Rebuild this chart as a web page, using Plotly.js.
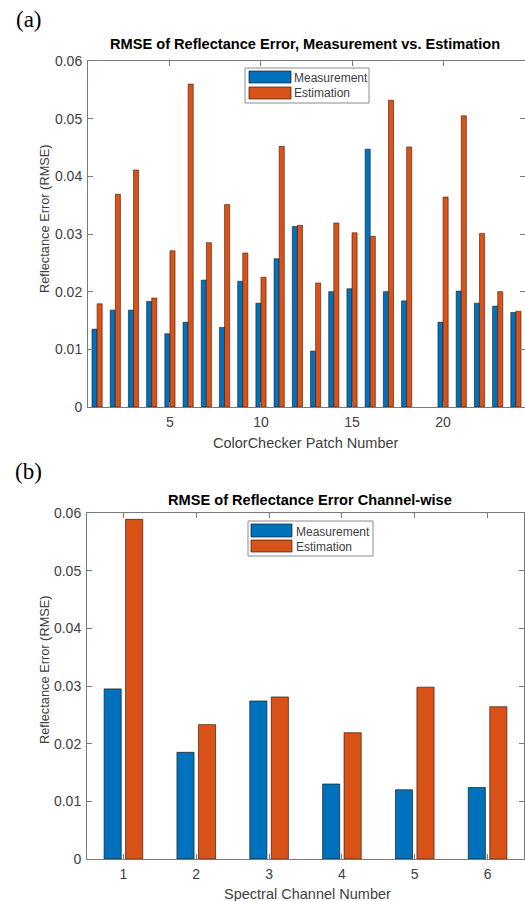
<!DOCTYPE html>
<html>
<head>
<meta charset="utf-8">
<script src="https://cdn.plot.ly/plotly-3.0.1.min.js"></script>
<style>html,body{margin:0;padding:0;background:#fff;}#chart{width:525px;height:901px;}</style>
</head>
<body>
<div id="chart"></div>
<script>
// ---- Data ----
const patches = [1,2,3,4,5,6,7,8,9,10,11,12,13,14,15,16,17,18,19,20,21,22,23,24];
const patchMeasurement = [0.0135,0.0168,0.0168,0.0183,0.0127,0.0147,0.0220,0.0138,0.0218,0.0180,0.0257,0.0313,0.0097,0.0200,0.0205,0.0447,0.0200,0.0184,null,0.0147,0.0201,0.0180,0.0175,0.0164];
const patchEstimation  = [0.0179,0.0369,0.0411,0.0189,0.0271,0.0560,0.0285,0.0351,0.0267,0.0225,0.0452,0.0315,0.0215,0.0319,0.0302,0.0296,0.0532,0.0451,null,0.0364,0.0505,0.0301,0.0200,0.0166];
const channels = [1,2,3,4,5,6];
const channelMeasurement = [0.0295,0.0185,0.0274,0.0130,0.0120,0.0124];
const channelEstimation  = [0.0589,0.0233,0.0281,0.0219,0.0298,0.0264];
const patchTicks = [5,10,15,20];
const errorTicks = [0,0.01,0.02,0.03,0.04,0.05,0.06];
const seriesNames = ['Measurement','Estimation'];

// ---- Styling ----
const W = 525, H = 901;
const px = x => x / W;
const py = y => 1 - y / H;
const BLUE = '#0072BD', ORANGE = '#D95319';
const AXC = '#7a7a7a', TXT = '#404040';
const SANS = 'Liberation Sans, Arial, sans-serif';

const traces = [
  {type:'bar', x:patches, y:patchMeasurement, name:seriesNames[0], xaxis:'x', yaxis:'y',
   marker:{color:BLUE, line:{color:'#1a1a1a', width:0.6}}, width:0.28, offset:-0.28, hoverinfo:'x+y'},
  {type:'bar', x:patches, y:patchEstimation, name:seriesNames[1], xaxis:'x', yaxis:'y',
   marker:{color:ORANGE, line:{color:'#3a1a0a', width:0.6}}, width:0.28, offset:0, hoverinfo:'x+y'},
  {type:'bar', x:channels, y:channelMeasurement, name:seriesNames[0], xaxis:'x2', yaxis:'y2',
   marker:{color:BLUE, line:{color:'#1a1a1a', width:0.7}}, width:0.235, offset:-0.265, hoverinfo:'x+y'},
  {type:'bar', x:channels, y:channelEstimation, name:seriesNames[1], xaxis:'x2', yaxis:'y2',
   marker:{color:ORANGE, line:{color:'#3a1a0a', width:0.7}}, width:0.235, offset:0.03, hoverinfo:'x+y'}
];

function axisCommon(extra){
  return Object.assign({
    showline:true, linecolor:AXC, linewidth:1, mirror:'ticks',
    ticks:'inside', ticklen:5, tickcolor:AXC, tickwidth:1,
    showgrid:false, zeroline:false, fixedrange:true,
    tickfont:{family:SANS, size:14, color:TXT}
  }, extra);
}

const layout = {
  width:W, height:H, margin:{l:0,r:0,t:0,b:0},
  paper_bgcolor:'#fff', plot_bgcolor:'#fff',
  barmode:'overlay', showlegend:false,
  xaxis: axisCommon({domain:[px(88),1], range:[0.5,24.5], tickvals:patchTicks, anchor:'y', ticklabelstandoff:2}),
  yaxis: axisCommon({domain:[py(407),py(61)], range:[0,0.06], tickvals:errorTicks, anchor:'x', ticklabelstandoff:2}),
  xaxis2: axisCommon({domain:[px(87),px(524)], range:[0.5,6.5], tickvals:channels, anchor:'y2', ticklabelstandoff:2}),
  yaxis2: axisCommon({domain:[py(859),py(513)], range:[0,0.06], tickvals:errorTicks, anchor:'x2', ticklabelstandoff:2}),
  shapes:[], annotations:[]
};

function addAnn(text, x, y, opts){
  layout.annotations.push(Object.assign({
    text:text, x:px(x), y:py(y), xref:'paper', yref:'paper',
    xanchor:'center', yanchor:'middle', showarrow:false,
    font:{family:SANS, size:14, color:TXT}
  }, opts||{}));
}

// titles
addAnn('<b>RMSE of Reflectance Error, Measurement vs. Estimation</b>', 305, 44, {font:{family:SANS, size:14.6, color:'#000'}});
addAnn('<b>RMSE of Reflectance Error Channel-wise</b>', 310, 500, {font:{family:SANS, size:14.6, color:'#000'}});
addAnn('ColorChecker Patch Number', 306, 443, {font:{family:SANS, size:14.5, color:TXT}});
addAnn('Spectral Channel Number', 307, 894, {font:{family:SANS, size:14.5, color:TXT}});
addAnn('Reflectance Error (RMSE)', 44, 219, {textangle:-90, font:{family:SANS, size:12.8, color:TXT}});
addAnn('Reflectance Error (RMSE)', 44, 670, {textangle:-90, font:{family:SANS, size:12.8, color:TXT}});
addAnn('(a)', 29, 19, {font:{family:'Liberation Serif, Times New Roman, serif', size:23, color:'#000'}});
addAnn('(b)', 28, 471, {font:{family:'Liberation Serif, Times New Roman, serif', size:23, color:'#000'}});

// legends (drawn as boxes with real text)
function legend(box, sw1, sw2, textX, ty1, ty2){
  layout.shapes.push({type:'rect', xref:'paper', yref:'paper', x0:px(box[0]), x1:px(box[2]), y0:py(box[3]), y1:py(box[1]),
    line:{color:'#8c8c8c', width:1}, fillcolor:'#fff'});
  layout.shapes.push({type:'rect', xref:'paper', yref:'paper', x0:px(sw1[0]), x1:px(sw1[2]), y0:py(sw1[3]), y1:py(sw1[1]),
    line:{color:'#1a1a1a', width:0.7}, fillcolor:BLUE});
  layout.shapes.push({type:'rect', xref:'paper', yref:'paper', x0:px(sw2[0]), x1:px(sw2[2]), y0:py(sw2[3]), y1:py(sw2[1]),
    line:{color:'#3a1a0a', width:0.7}, fillcolor:ORANGE});
  addAnn(seriesNames[0], textX, ty1, {xanchor:'left', font:{family:SANS, size:12, color:TXT}});
  addAnn(seriesNames[1], textX, ty2, {xanchor:'left', font:{family:SANS, size:12, color:TXT}});
}
legend([245,68,369,103],[249,71,291,83],[249,87,291,99],292,77.5,93);
legend([248,521,373,556],[251,524,292,537],[251,540,292,552],294,531.5,547);

Plotly.newPlot('chart', traces, layout, {displayModeBar:false, staticPlot:true});
</script>
</body>
</html>
